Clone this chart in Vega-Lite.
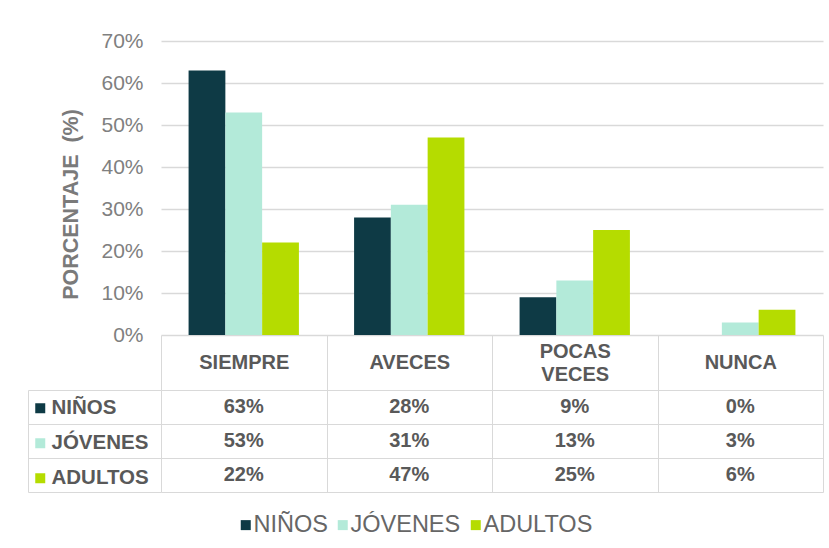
{
  "$schema": "https://vega.github.io/schema/vega-lite/v6.json",
  "background": "white",
  "padding": {"left": 27, "top": 30, "right": 7, "bottom": 10},
  "bounds": "flush",
  "spacing": 55,
  "config": {
    "font": "Liberation Sans",
    "view": {"stroke": null},
    "axis": {"labelFont": "Liberation Sans", "titleFont": "Liberation Sans"},
    "legend": {"labelFont": "Liberation Sans"}
  },
  "datasets": {
    "datos": [
      {"categoria": "SIEMPRE", "grupo": "NIÑOS", "valor": 0.63},
      {"categoria": "SIEMPRE", "grupo": "JÓVENES", "valor": 0.53},
      {"categoria": "SIEMPRE", "grupo": "ADULTOS", "valor": 0.22},
      {"categoria": "AVECES", "grupo": "NIÑOS", "valor": 0.28},
      {"categoria": "AVECES", "grupo": "JÓVENES", "valor": 0.31},
      {"categoria": "AVECES", "grupo": "ADULTOS", "valor": 0.47},
      {"categoria": "POCAS VECES", "grupo": "NIÑOS", "valor": 0.09},
      {"categoria": "POCAS VECES", "grupo": "JÓVENES", "valor": 0.13},
      {"categoria": "POCAS VECES", "grupo": "ADULTOS", "valor": 0.25},
      {"categoria": "NUNCA", "grupo": "NIÑOS", "valor": 0.0},
      {"categoria": "NUNCA", "grupo": "JÓVENES", "valor": 0.03},
      {"categoria": "NUNCA", "grupo": "ADULTOS", "valor": 0.06}
    ]
  },
  "vconcat": [
    {
      "width": 662,
      "height": 294,
      "data": {"name": "datos"},
      "mark": {"type": "bar"},
      "encoding": {
        "x": {
          "field": "categoria", "type": "nominal",
          "scale": {"domain": ["SIEMPRE", "AVECES", "POCAS VECES", "NUNCA"], "paddingInner": 0, "paddingOuter": 0},
          "axis": {
            "orient": "bottom", "title": null, "domain": false,
            "ticks": true, "tickBand": "extent", "tickSize": 55, "tickColor": "#d9d9d9",
            "labelAngle": 0, "labelFontSize": 20, "labelFontWeight": "bold", "labelColor": "#595959",
            "labelBaseline": "middle", "labelPadding": -39, "labelLineHeight": 11.5,
            "labelExpr": "indexof(datum.label, ' ') > 0 ? [split(datum.label, ' ')[0], '\u200b', split(datum.label, ' ')[1]] : ['\u200b', datum.label]"
          }
        },
        "xOffset": {
          "field": "grupo", "type": "nominal",
          "scale": {"domain": ["NIÑOS", "JÓVENES", "ADULTOS"], "paddingInner": 0, "paddingOuter": 0.75}
        },
        "y": {
          "field": "valor", "type": "quantitative",
          "scale": {"domain": [0, 0.7]},
          "axis": {
            "values": [0, 0.1, 0.2, 0.3, 0.4, 0.5, 0.6, 0.7],
            "format": ".0%",
            "grid": true, "gridColor": "#d9d9d9", "gridWidth": 1.5,
            "domain": false, "ticks": false,
            "labelFontSize": 21, "labelColor": "#808080", "labelPadding": 18,
            "title": "PORCENTAJE \u00a0(%)", "titleFontSize": 21.5, "titleFontWeight": "bold",
            "titleColor": "#7a7a7a", "titlePadding": 18, "titleY": 163
          }
        },
        "color": {
          "field": "grupo", "type": "nominal",
          "scale": {"domain": ["NIÑOS", "JÓVENES", "ADULTOS"], "range": ["#0e3a45", "#b3ead9", "#b5dc00"]},
          "legend": {
            "orient": "none", "direction": "horizontal", "legendX": 73, "legendY": 472,
            "title": null, "symbolType": "square", "symbolSize": 100,
            "labelFontSize": 23.5, "labelColor": "#666666", "labelOffset": -4, "columnPadding": 3
          }
        }
      }
    },
    {
      "width": 662,
      "height": 102,
      "data": {"name": "datos"},
      "encoding": {
        "x": {
          "field": "categoria", "type": "nominal",
          "scale": {"domain": ["SIEMPRE", "AVECES", "POCAS VECES", "NUNCA"], "paddingInner": 0, "paddingOuter": 0},
          "axis": {"grid": true, "tickBand": "extent", "gridColor": "#d9d9d9", "labels": false, "ticks": false, "domain": false, "title": null}
        },
        "y": {
          "field": "grupo", "type": "nominal",
          "scale": {"domain": ["NIÑOS", "JÓVENES", "ADULTOS"], "paddingInner": 0, "paddingOuter": 0},
          "axis": {
            "orient": "left", "offset": 133, "domain": true, "domainColor": "#d9d9d9",
            "ticks": true, "tickSize": -133, "tickColor": "#d9d9d9", "tickBand": "extent",
            "grid": true, "gridColor": "#d9d9d9", "labels": false, "title": null
          }
        }
      },
      "layer": [
        {
          "mark": {"type": "text", "fontWeight": "bold", "fontSize": 20, "color": "#595959"},
          "encoding": {
            "text": {"field": "valor", "type": "quantitative", "format": ".0%"}
          }
        },
        {
          "mark": {"type": "point", "shape": "square", "filled": true, "opacity": 0},
          "encoding": {
            "fill": {
              "field": "grupo", "type": "nominal",
              "sort": ["NIÑOS", "JÓVENES", "ADULTOS"],
              "scale": {"range": ["#0e3a45", "#b3ead9", "#b5dc00"]},
              "legend": {
                "orient": "none", "direction": "vertical", "legendX": -131, "legendY": 357,
                "title": null, "symbolType": "square", "symbolSize": 100, "symbolOpacity": 1,
                "labelFontSize": 20.5, "labelFontWeight": "bold", "labelColor": "#595959",
                "labelOffset": 1, "rowPadding": 14
              }
            }
          }
        }
      ]
    }
  ]
}
